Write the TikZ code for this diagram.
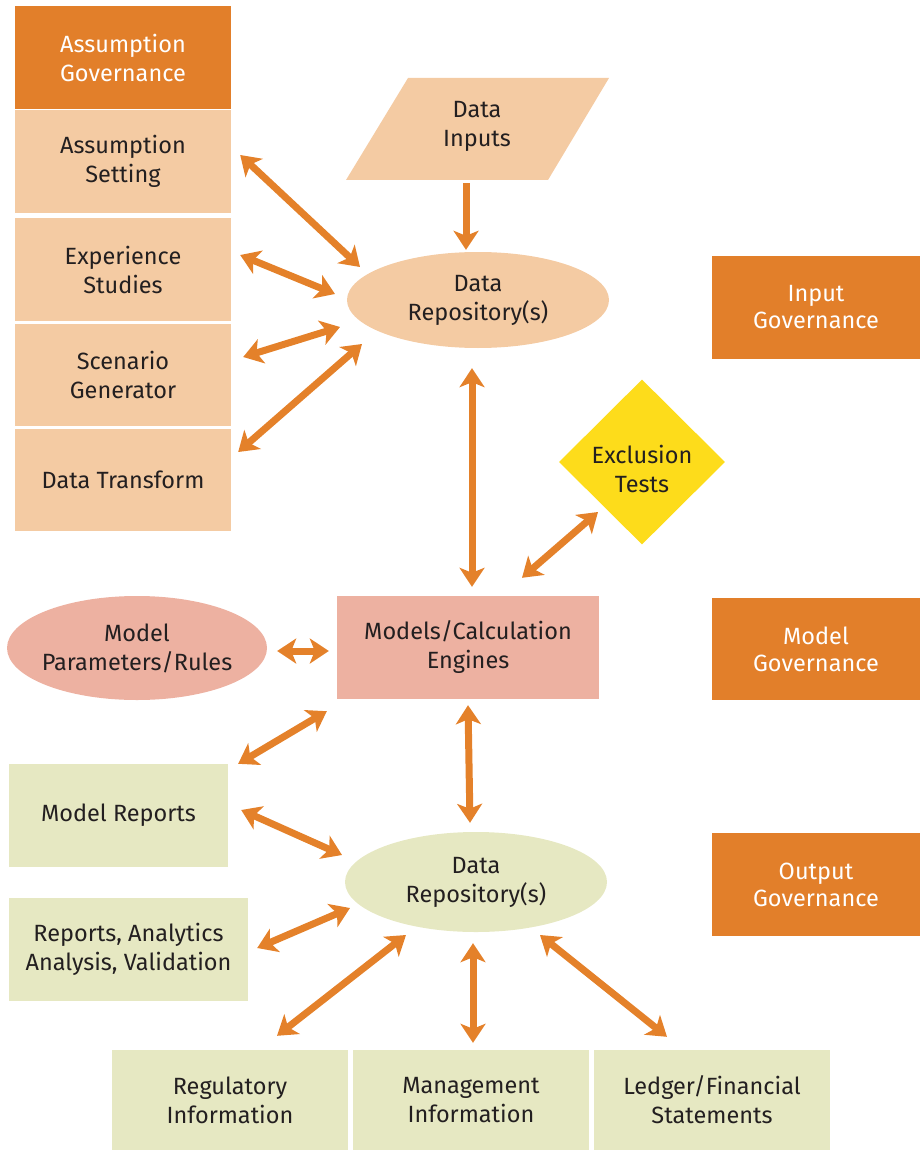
\documentclass[tikz,border=0pt]{standalone}
\usepackage{fontspec}
\setmainfont{Fira Sans}
\usetikzlibrary{arrows.meta,calc,shapes.geometric}
\definecolor{govorange}{HTML}{E27F2A}
\definecolor{lightorange}{HTML}{F4CBA3}
\definecolor{salmon}{HTML}{EDB1A1}
\definecolor{palegreen}{HTML}{E6E8C2}
\definecolor{excyellow}{HTML}{FDDC1B}
\definecolor{arrowc}{HTML}{E4812A}
\definecolor{ink}{HTML}{231F20}
\begin{document}
\begin{tikzpicture}[x=1pt,y=-1pt,
  every node/.style={font=\fontsize{23.5}{29}\selectfont, align=center, inner sep=0pt, text=ink},
  gov/.style={rectangle, fill=govorange, text=white, minimum width=208pt, minimum height=103pt,
    font=\fontsize{23.5}{27}\selectfont},
  inbox/.style={rectangle, fill=lightorange, minimum width=216pt, minimum height=103pt},
  outbox/.style={rectangle, fill=palegreen, minimum height=103pt},
  oval/.style={ellipse, minimum width=262pt},
  dbl/.style={draw=arrowc, line width=7pt, {Stealth[length=19pt,width=25pt,inset=5pt]}-{Stealth[length=19pt,width=25pt,inset=5pt]}},
  single/.style={draw=arrowc, line width=7pt, -{Stealth[length=19pt,width=25pt,inset=5pt]}}
]
\useasboundingbox (0,0) rectangle (920,1150);

% assumption column
\node[inbox, fill=govorange, text=white] (agov) at (123,57.5) {Assumption\\Governance};
\node[inbox] (setting) at (123,161.5) {Assumption\\Setting};
\node[inbox] (exper) at (123,269.5) {Experience\\Studies};
\node[inbox, minimum height=102pt] (scen) at (123,375) {Scenario\\Generator};
\node[inbox, minimum height=102pt] (transform) at (123,480) {Data Transform};

% data inputs (parallelogram)
\fill[lightorange] (408,78) -- (609,78) -- (548,180) -- (346,180) -- cycle;
\node[rectangle, minimum width=200pt, minimum height=102pt] (inputs) at (477,126) {Data\\Inputs};

% top repository
\node[oval, fill=lightorange, minimum height=96pt] (repo1) at (478,300) {Data\\Repository(s)};

% governance boxes on the right
\node[gov] (ingov) at (816,307.5) {Input\\Governance};
\node[gov, minimum height=102pt] (modgov) at (816,649) {Model\\Governance};
\node[gov] (outgov) at (816,884.5) {Output\\Governance};

% exclusion tests
\node[diamond, fill=excyellow, minimum width=166pt, minimum height=165pt,
  label={[yshift=-7pt, align=center]center:Exclusion\\Tests}] (excl) at (642,462) {};

% models
\node[rectangle, fill=salmon, minimum width=262pt, minimum height=103pt] (models) at (468,647.5) {Models/Calculation\\Engines};
\node[ellipse, fill=salmon, minimum width=260pt, minimum height=104pt,
  label={[align=center]center:Model\\Parameters/Rules}] (params) at (137,648) {};

% outputs
\node[outbox, minimum width=219pt] (mreports) at (118.5,815.5) {Model Reports};
\node[oval, fill=palegreen, minimum height=100pt] (repo2) at (476,882) {Data\\Repository(s)};
\node[outbox, minimum width=239pt] (reports) at (128.5,949.5) {Reports, Analytics\\Analysis, Validation};
\node[outbox, minimum width=236pt, minimum height=100pt] (reg) at (230,1100) {Regulatory\\Information};
\node[outbox, minimum width=236pt, minimum height=100pt] (mgmt) at (471,1100) {Management\\Information};
\node[outbox, minimum width=236pt, minimum height=100pt] (ledger) at (712,1100) {Ledger/Financial\\Statements};

% connectors
\draw[single] ($(inputs.south)+(-11,6)$) -- ($(repo1.north)+(-12,-2)$);
\draw[dbl] ($(setting.east)+(9,-6.5)$) -- ($(repo1.center)+(-118,-33)$);
\draw[dbl] ($(exper.east)+(9,-14.5)$) -- ($(repo1.center)+(-143,-6)$);
\draw[dbl] ($(scen.east)+(12,-18)$) -- ($(repo1.center)+(-138,27)$);
\draw[dbl] ($(transform.east)+(7,-28)$) -- ($(repo1.center)+(-116,44)$);
\draw[dbl] ($(repo1.south)+(-6,20)$) -- ($(models.north)+(4,-9)$);
\draw[dbl] ($(models.north)+(54,-18)$) -- ($(excl.center)+(-44,50)$);
\draw[dbl] ($(params.east)+(10,3)$) -- ($(models.west)+(-8,3.5)$);
\draw[dbl] ($(models.south)+(0,6)$) -- ($(repo2.north)+(-6,-9)$);
\draw[dbl] ($(mreports.north east)+(10,0)$) -- ($(models.south west)+(-10,12)$);
\draw[dbl] ($(mreports.east)+(13,-5.5)$) -- ($(repo2.center)+(-134,-27)$);
\draw[dbl] ($(reports.east)+(9,-1.5)$) -- ($(repo2.center)+(-126,26)$);
\draw[dbl] ($(reg.north)+(47,-14)$) -- ($(repo2.center)+(-70,53)$);
\draw[dbl] ($(mgmt.north)+(2,-7)$) -- ($(repo2.south)+(-3,11)$);
\draw[dbl] ($(repo2.center)+(64,53)$) -- ($(ledger.north)+(-45,-13)$);
\end{tikzpicture}
\end{document}
